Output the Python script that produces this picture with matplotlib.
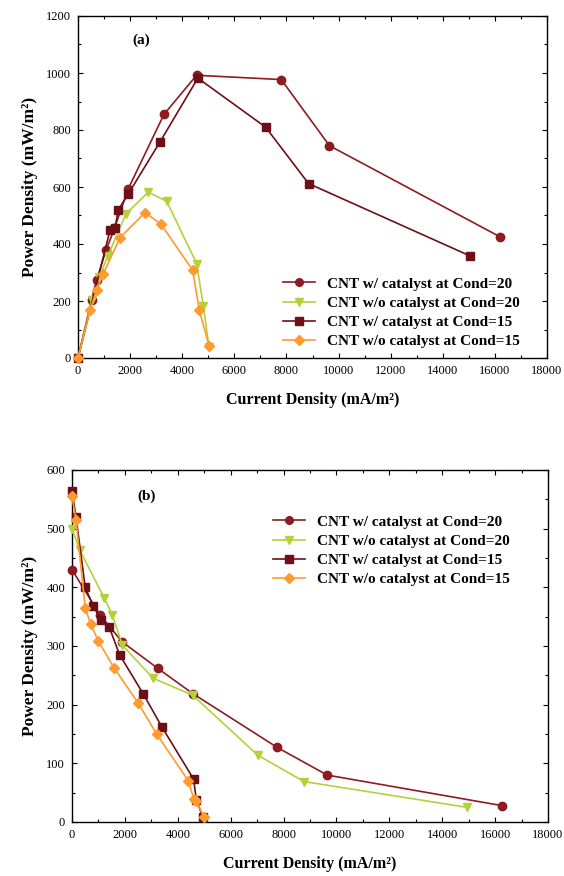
import matplotlib
matplotlib.use("Agg")
import matplotlib.pyplot as plt
from matplotlib.ticker import MultipleLocator

plt.rcParams['font.family'] = ['Liberation Serif', 'DejaVu Serif']

labels = ["CNT w/ catalyst at Cond=20", "CNT w/o catalyst at Cond=20",
          "CNT w/ catalyst at Cond=15", "CNT w/o catalyst at Cond=15"]
colors = ["#8E1B22", "#B4D03A", "#6E0F18", "#FF9A2E"]
markers = ["o", "v", "s", "D"]

# Panel (a)
a_x1 = [0, 520, 720, 1075, 1400, 1930, 3300, 4550, 7800, 9650, 16200]
a_y1 = [0, 205, 275, 378, 455, 594, 855, 992, 977, 745, 425]
a_x2 = [0, 525, 818, 1139, 1842, 2700, 3404, 4555, 4810, 5028]
a_y2 = [0, 203, 284, 357, 506, 582, 550, 331, 182, 40]
a_x3 = [0, 1228, 1420, 1548, 1932, 3139, 4600, 7200, 8850, 15050]
a_y3 = [0, 448, 456, 520, 576, 757, 982, 810, 612, 358]
a_x4 = [0, 461, 717, 972, 1612, 2571, 3173, 4401, 4657, 5028]
a_y4 = [0, 168, 238, 296, 422, 510, 471, 308, 168, 42]

# Panel (b)
b_x1 = [0, 1075, 1900, 3241, 4564, 7764, 9650, 16250]
b_y1 = [430, 352, 307, 262, 219, 127, 80, 28]
b_x2 = [0, 300, 1227, 1527, 1909, 3068, 4568, 7022, 8768, 14932]
b_y2 = [500, 463, 381, 353, 301, 245, 216, 114, 69, 25]
b_x3 = [0, 150, 500, 800, 1100, 1400, 1800, 2700, 3400, 4600, 4700, 4950]
b_y3 = [565, 520, 400, 368, 345, 333, 285, 218, 162, 73, 38, 8]
b_x4 = [0, 150, 500, 700, 1000, 1600, 2500, 3200, 4400, 4600, 4700, 5000]
b_y4 = [555, 515, 365, 338, 308, 262, 203, 150, 70, 40, 35, 8]

W, H = 564, 876
fig = plt.figure(figsize=(W / 100, H / 100), dpi=100)

def frac(l, r, t, b):
    return [l / W, 1 - b / H, (r - l) / W, (b - t) / H]

axA = fig.add_axes(frac(78, 547, 16, 358))
axB = fig.add_axes(frac(72, 548, 470, 822))

def style(ax, ymax, ymaj, ymin):
    ax.set_xlim(0, 18000)
    ax.set_ylim(0, ymax)
    ax.xaxis.set_major_locator(MultipleLocator(2000))
    ax.xaxis.set_minor_locator(MultipleLocator(1000))
    ax.yaxis.set_major_locator(MultipleLocator(ymaj))
    ax.yaxis.set_minor_locator(MultipleLocator(ymin))
    ax.tick_params(which='both', direction='in', top=True, right=True,
                   labelsize=9, pad=5)
    ax.tick_params(which='major', length=3.5, width=0.8)
    ax.tick_params(which='minor', length=2, width=0.8)
    for s in ax.spines.values():
        s.set_linewidth(1.0)
    ax.set_xlabel("Current Density (mA/m²)", fontsize=11.5, fontweight='bold', labelpad=11)
    ax.set_ylabel("Power Density (mW/m²)", fontsize=12.5, fontweight='bold', labelpad=6)

def draw(ax, xs, ys):
    for i in range(4):
        ax.plot(xs[i], ys[i], color=colors[i], marker=markers[i], lw=1.2,
                ms=6 if markers[i] != 'D' else 5, label=labels[i],
                markeredgecolor=colors[i], clip_on=False, zorder=3)

def legend(ax, x, y):
    lg = ax.legend(loc='upper left', bbox_to_anchor=(x / W, 1 - y / H),
                   bbox_transform=fig.transFigure, frameon=False,
                   prop={'weight': 'bold', 'size': 11}, handlelength=2.1,
                   labelspacing=0.36, handletextpad=0.8, borderpad=0,
                   borderaxespad=0)
    for h in lg.legend_handles:
        h.set_markersize(5.5)
    return lg

draw(axA, [a_x1, a_x2, a_x3, a_x4], [a_y1, a_y2, a_y3, a_y4])
style(axA, 1200, 200, 100)
axA.text(0.117, 0.92, "(a)", transform=axA.transAxes, fontsize=11, fontweight='bold')
legend(axA, 283, 277)

draw(axB, [b_x1, b_x2, b_x3, b_x4], [b_y1, b_y2, b_y3, b_y4])
style(axB, 600, 100, 50)
axB.text(0.138, 0.915, "(b)", transform=axB.transAxes, fontsize=11, fontweight='bold')
legend(axB, 273, 515)

fig.savefig("out.png", dpi=100)
